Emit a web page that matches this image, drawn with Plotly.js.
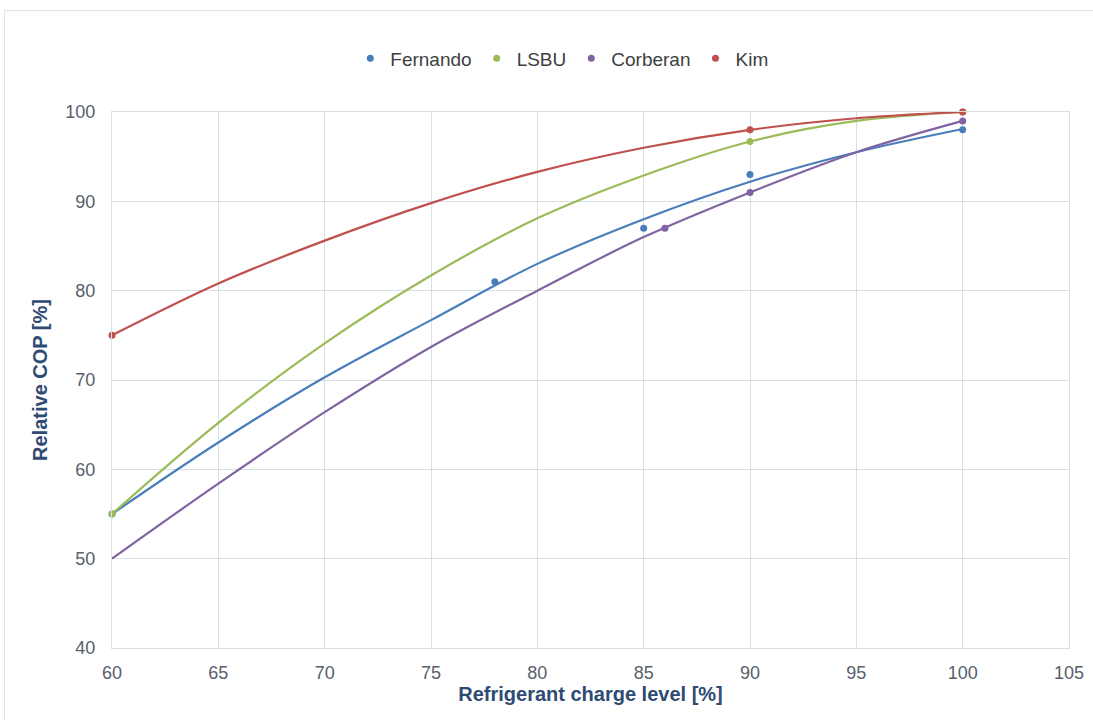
<!DOCTYPE html>
<html>
<head>
<meta charset="utf-8">
<script src="https://cdn.plot.ly/plotly-3.0.1.min.js"></script>
<style>
html,body{margin:0;padding:0;background:#fff;}
#frame{position:absolute;left:4px;top:10px;width:1100px;height:720px;border-top:1px solid #dfe5e8;border-left:1px solid #dfe5e8;}
#chart{position:absolute;left:0;top:0;width:1093px;height:720px;}
</style>
</head>
<body>
<div id="frame"></div>
<div id="chart"></div>
<script>
// Measured data points
const fernandoX = [60, 78, 85, 90, 100];
const fernandoY = [55, 81, 87, 93, 98];
const lsbuX = [60, 90, 100];
const lsbuY = [55, 96.7, 100];
const corberanX = [86, 90, 100];
const corberanY = [87, 91, 99];
const kimX = [60, 90, 100];
const kimY = [75, 98, 100];

// Trend curves
const curveX = [60, 65, 70, 75, 80, 85, 90, 95, 100];
const fernandoCurve = [55, 63.0, 70.3, 76.7, 83.0, 88.0, 92.2, 95.5, 98.1];
const lsbuCurve = [55, 65.2, 74.1, 81.7, 88.1, 92.9, 96.7, 99.0, 100];
const corberanCurve = [50, 58.4, 66.4, 73.7, 80.0, 86.0, 91.0, 95.5, 99.0];
const kimCurve = [75, 80.8, 85.6, 89.8, 93.3, 96.0, 98.0, 99.3, 100];

const names = ['Fernando', 'LSBU', 'Corberan', 'Kim'];
const colors = ['#4a7ebb', '#9bbb59', '#8064a2', '#c0504d'];
const ptsX = [fernandoX, lsbuX, corberanX, kimX];
const ptsY = [fernandoY, lsbuY, corberanY, kimY];
const curves = [fernandoCurve, lsbuCurve, corberanCurve, kimCurve];

const traces = [];
for (let i = 0; i < names.length; i++) {
  traces.push({
    x: curveX, y: curves[i], mode: 'lines', type: 'scatter',
    line: {color: colors[i], width: 2.2, shape: 'spline', smoothing: 1},
    showlegend: false, hoverinfo: 'skip', cliponaxis: false
  });
}
for (let i = 0; i < names.length; i++) {
  traces.push({
    x: ptsX[i], y: ptsY[i], mode: 'markers', type: 'scatter', name: names[i],
    marker: {color: colors[i], size: 7}, cliponaxis: false
  });
}

const tickFont = {family: 'Liberation Sans, Arial, sans-serif', size: 18, color: '#58606c'};
const titleFont = {family: 'Liberation Sans, Arial, sans-serif', size: 20, color: '#2f4b73', weight: 'bold'};

const layout = {
  width: 1093, height: 720,
  paper_bgcolor: 'rgba(0,0,0,0)', plot_bgcolor: '#ffffff',
  margin: {l: 112, r: 24, t: 112, b: 72},
  font: {family: 'Liberation Sans, Arial, sans-serif'},
  xaxis: {
    range: [60, 105], dtick: 5, tick0: 60,
    showgrid: true, gridcolor: '#d6e1e6', gridwidth: 1,
    zeroline: false, showline: true, linecolor: '#d6e1e6', mirror: true,
    ticks: '', tickfont: tickFont, ticklabelstandoff: 8,
    title: {text: 'Refrigerant charge level [%]', font: titleFont, standoff: 4}
  },
  yaxis: {
    range: [40, 100], dtick: 10, tick0: 40,
    showgrid: true, gridcolor: '#d6e1e6', gridwidth: 1,
    zeroline: false, showline: true, linecolor: '#d6e1e6', mirror: true,
    ticks: '', tickfont: tickFont, ticklabelstandoff: 12,
    title: {text: 'Relative COP [%]', font: titleFont, standoff: 12}
  },
  legend: {
    orientation: 'h', x: 0.47, xanchor: 'center', y: 1.1, yanchor: 'middle',
    font: {family: 'Liberation Sans, Arial, sans-serif', size: 19, color: '#404040'},
    itemwidth: 30, traceorder: 'normal'
  },
  showlegend: true
};

Plotly.newPlot('chart', traces, layout, {displayModeBar: false, staticPlot: true});
</script>
</body>
</html>
